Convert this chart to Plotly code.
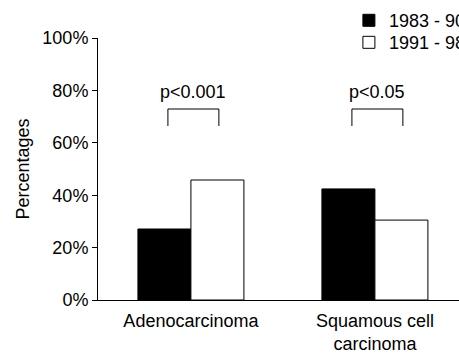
import plotly.graph_objects as go

categories = ["Adenocarcinoma", "Squamous cell<br>carcinoma"]
series_names = ["1983 - 90", "1991 - 98"]
values_1983_90 = [27.1, 42.4]
values_1991_98 = [45.8, 30.5]
p_labels = ["p<0.001", "p<0.05"]
tick_vals = [0, 20, 40, 60, 80, 100]
tick_text = ["0%", "20%", "40%", "60%", "80%", "100%"]

FONT = "Liberation Sans, Arial, sans-serif"
FS = 18

fig = go.Figure()
fig.add_trace(go.Bar(
    x=categories, y=values_1983_90, name=series_names[0], legend="legend",
    marker=dict(color="black", line=dict(color="black", width=1)),
))
fig.add_trace(go.Bar(
    x=categories, y=values_1991_98, name=series_names[1], legend="legend2",
    marker=dict(color="white", line=dict(color="black", width=1)),
))

# significance brackets
for i, lab in enumerate(p_labels):
    xl, xr = i - 0.125, i + 0.152
    fig.add_trace(go.Scatter(
        x=[xl, xl, xr, xr], y=[66.4, 72.9, 72.9, 66.4],
        mode="lines", line=dict(color="black", width=1),
        showlegend=False, hoverinfo="skip", xaxis="x2",
    ))
    fig.add_annotation(x=(xl + xr) / 2, y=79.5, text=lab, showarrow=False,
                       xref="x2", yref="y",
                       font=dict(family=FONT, size=FS, color="black"))

leg_common = dict(xanchor="left", yanchor="top", bgcolor="rgba(0,0,0,0)",
                  font=dict(size=FS), itemclick=False, itemdoubleclick=False)

fig.update_layout(
    width=459, height=353,
    margin=dict(l=98, r=0, t=38, b=53, autoexpand=False),
    paper_bgcolor="white", plot_bgcolor="white",
    barmode="group", bargap=0.424, bargroupgap=0,
    font=dict(family=FONT, size=FS, color="black"),
    showlegend=True,
    legend=dict(x=0.695, y=1.137, **leg_common),
    legend2=dict(x=0.695, y=1.053, **leg_common),
    xaxis=dict(range=[-0.505, 1.457], showline=True, linecolor="black",
               linewidth=1, ticks="", showgrid=False, zeroline=False,
               tickfont=dict(size=FS), ticklabelstandoff=4),
    xaxis2=dict(range=[-0.505, 1.457], overlaying="x", visible=False),
    yaxis=dict(range=[0, 100], tickvals=tick_vals, ticktext=tick_text,
               showline=True, linecolor="black", linewidth=1,
               ticks="outside", ticklen=5, tickcolor="black",
               showgrid=False, zeroline=False,
               title=dict(text="Percentages", font=dict(size=FS), standoff=8)),
)

fig.write_html(
    "out.html",
    config={"displayModeBar": False},
    post_script="document.body.style.margin='0';document.body.style.overflow='hidden';",
)
